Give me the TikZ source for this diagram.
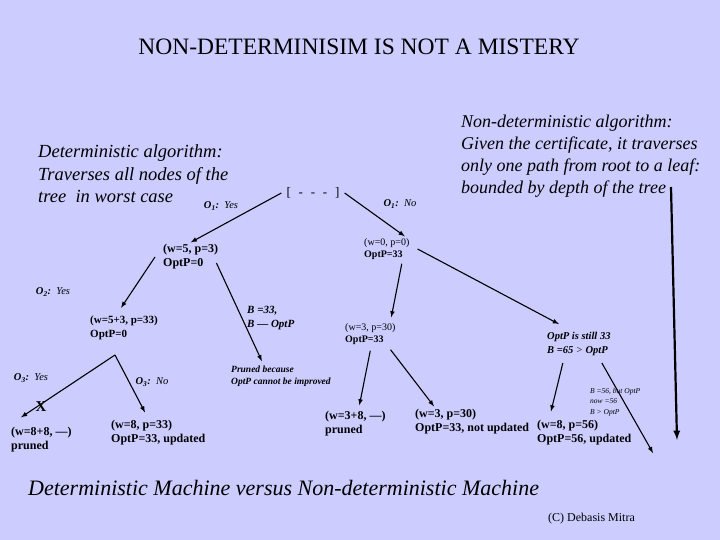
\documentclass[tikz,border=0pt]{standalone}
\usepackage{fontspec}
\setmainfont{Liberation Serif}
\usetikzlibrary{arrows.meta, positioning}

\definecolor{fundo}{RGB}{204,204,255}

\begin{document}
\begin{tikzpicture}[x=1pt, y=-1pt, >=latex,
    ramo/.style={->, line width=1.1pt},
    texto/.style={align=left, inner sep=0pt, font=\fontsize{18.5}{22.5}\selectfont\itshape},
    rotulo/.style={align=left, inner sep=2pt, font=\fontsize{12}{14}\selectfont\bfseries},
    estado/.style={align=left, inner sep=2pt, font=\fontsize{10}{12}\selectfont},
    nota/.style={align=left, inner sep=2pt, font=\fontsize{10.5}{14}\selectfont\bfseries\itshape},
    decisao/.style={inner sep=0pt, font=\fontsize{10.5}{12}\selectfont\itshape}]

    % Fundo e margens
    \fill[fundo] (0,0) rectangle (720,540);
    \useasboundingbox (0,0) rectangle (720,540);

    % Titulo
    \node (titulo) at (359,47) {\fontsize{23.5}{27}\selectfont NON-DETERMINISIM IS NOT A MISTERY};

    % Textos explicativos
    \node[texto, anchor=west] (det) at (38,174) {Deterministic algorithm:\\Traverses all nodes of the\\tree\ \ in worst case};
    \node[texto, font=\fontsize{18}{22}\selectfont\itshape, anchor=west] (ndet) at (461,156) {Non-deterministic algorithm:\\Given the certificate, it traverses\\only one path from root to a leaf:\\bounded by depth of the tree};

    % Raiz e primeiro nivel
    \node[inner sep=5pt, font=\fontsize{13}{15}\selectfont] (raiz) at (313,193) {[\hspace{0.6em}-\hspace{0.6em}-\hspace{0.6em}-\hspace{0.6em}]};
    \node[decisao] (o1sim) at (221,206) {\textbf{O\textsubscript{1}:}\ \ Yes};
    \node[decisao] (o1nao) at (400,204) {\textbf{O\textsubscript{1}:}\ \ No};

    \node[rotulo, anchor=west] (n53) at (161,257) {(w=5, p=3)\\OptP=0};
    \node[estado, anchor=west] (n00) at (362,249) {(w=0, p=0)\\\textbf{OptP=33}};

    % Ramo da esquerda
    \node[decisao] (o2sim) at (53,292) {\textbf{O\textsubscript{2}:}\ \ Yes};
    \node[rotulo, font=\fontsize{11}{14}\selectfont\bfseries, anchor=west] (n533) at (88,328) {(w=5+3, p=33)\\OptP=0};
    \node[nota, font=\fontsize{11}{13.5}\selectfont\bfseries\itshape, anchor=west] (bmin) at (245,318) {B =33,\\B --- OptP};
    \node[nota, font=\fontsize{9.5}{12.5}\selectfont\bfseries\itshape, anchor=west] (poda) at (229,376) {Pruned because\\OptP cannot be improved};

    \node[decisao] (o3sim) at (31,378) {\textbf{O\textsubscript{3}:}\ \ Yes};
    \node[decisao] (o3nao) at (152,382) {\textbf{O\textsubscript{3}:}\ \ No};
    \coordinate (garfo) at (115,355);
    \node[font=\fontsize{15}{17}\selectfont\bfseries, inner sep=0pt] (xis) at (41,407) {X};
    \node[rotulo, anchor=west] (n88) at (9,440) {(w=8+8, ---)\\pruned};
    \node[rotulo, anchor=west] (n833) at (109,433) {(w=8, p=33)\\OptP=33, updated};

    % Ramo da direita
    \node[estado, anchor=west] (n330) at (343,334) {(w=3, p=30)\\\textbf{OptP=33}};
    \node[nota, anchor=west] (ainda) at (545,344) {OptP is still 33\\B =65 {\normalfont\itshape>} OptP};
    \node[rotulo, anchor=west] (n38) at (323,424) {(w=3+8, ---)\\pruned};
    \node[rotulo, anchor=west] (n330b) at (413,422) {(w=3, p=30)\\OptP=33, not updated};
    \node[rotulo, anchor=west] (n856) at (535,433) {(w=8, p=56)\\OptP=56, updated};
    \node[align=left, inner sep=0pt, font=\fontsize{7.5}{10.5}\selectfont\itshape, anchor=west] (b56) at (590,402) {B =56, but OptP\\now =56\\B > OptP};
    \coordinate (folha) at (653,453);

    % Arestas da arvore
    \draw[ramo] (raiz.west) -- (n53.north);
    \draw[ramo] (raiz.east) -- ([xshift=18pt]n00.north);
    \draw[ramo] ([xshift=-6pt]n53.west) -- ([xshift=-3pt, yshift=6pt]n533.north);
    \draw[ramo] ([xshift=-4pt, yshift=-6pt]n53.east) -- ([xshift=-19pt, yshift=2pt]poda.north);
    \draw[ramo] (garfo) -- ([xshift=12pt, yshift=8pt]n88.north west);
    \draw[ramo] (garfo) -- ([xshift=36pt, yshift=6pt]n833.north west);
    \draw[ramo] ([xshift=15pt, yshift=-2pt]n00.south) -- ([xshift=21pt, yshift=4pt]n330.north);
    \draw[ramo] ([xshift=6pt]n00.east) -- ([xshift=-20pt, yshift=6pt]ainda.north);
    \draw[ramo] ([yshift=-4pt]n330.south) -- ([xshift=4pt, yshift=4pt]n38.north);
    \draw[ramo] ([xshift=-7pt, yshift=-3pt]n330.south east) -- ([xshift=21pt, yshift=1pt]n330b.north west);
    \draw[ramo] ([xshift=-16pt, yshift=-5pt]ainda.south) -- ([xshift=16pt, yshift=7pt]n856.north west);
    \draw[ramo] ([xshift=23pt, yshift=-5pt]ainda.south) -- (folha);

    % Profundidade da arvore
    \coordinate (profA) at (671,187);
    \coordinate (profB) at (677,440);
    \draw[->, line width=2.2pt] (profA) -- (profB);

    % Legenda
    \node[anchor=west, inner sep=0pt, font=\fontsize{22}{26}\selectfont\itshape] (legenda) at (28,488) {Deterministic Machine versus Non-deterministic Machine};
    \node[anchor=west, inner sep=0pt, font=\fontsize{12}{14}\selectfont] (autor) at (548,519) {(C) Debasis Mitra};

\end{tikzpicture}
\end{document}
